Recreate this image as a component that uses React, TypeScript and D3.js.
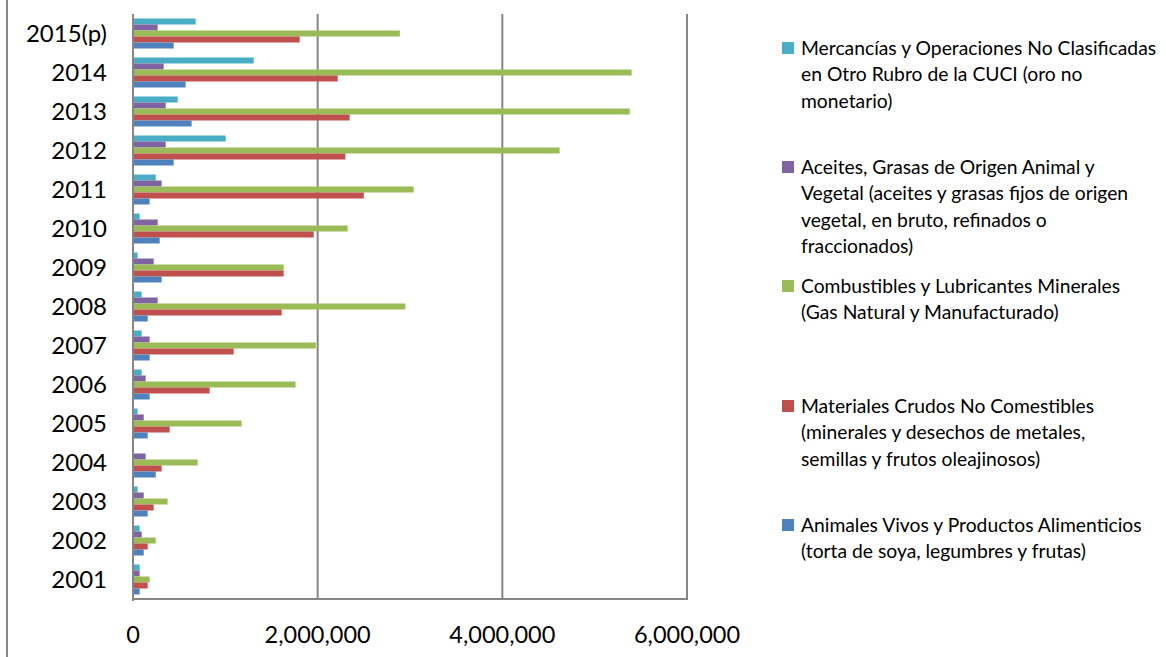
import React from "react";
import * as d3 from "d3";

const years = ["2001", "2002", "2003", "2004", "2005", "2006", "2007", "2008", "2009", "2010", "2011", "2012", "2013", "2014", "2015(p)"];

const mercancias = [72000, 72000, 50000, 0, 50000, 94000, 94000, 94000, 50000, 72000, 246000, 1004000, 484000, 1307000, 679000];
const aceites = [72000, 94000, 116000, 137000, 116000, 137000, 180000, 267000, 224000, 267000, 310000, 354000, 354000, 332000, 267000];
const combustibles = [180000, 246000, 375000, 700000, 1177000, 1760000, 1980000, 2950000, 1632000, 2325000, 3040000, 4620000, 5380000, 5400000, 2890000];
const materiales = [159000, 159000, 224000, 310000, 397000, 830000, 1090000, 1610000, 1632000, 1957000, 2500000, 2300000, 2346000, 2217000, 1805000];
const animales = [72000, 116000, 159000, 246000, 159000, 180000, 180000, 159000, 310000, 289000, 180000, 440000, 635000, 570000, 440000];

const xTicks = [0, 2000000, 4000000, 6000000];

const seriesNames = ["merc", "aceites", "comb", "mat", "anim"];
const seriesValues = [mercancias, aceites, combustibles, materiales, animales];
const seriesColors = ["#4BACC6", "#8064A2", "#9BBB59", "#C0504D", "#4F81BD"];

const legendLines = [
  ["Mercancías y Operaciones No Clasificadas", "en Otro Rubro de la CUCI (oro no", "monetario)"],
  ["Aceites, Grasas de Origen Animal y", "Vegetal (aceites y grasas fijos de origen", "vegetal, en bruto, refinados o", "fraccionados)"],
  ["Combustibles y Lubricantes Minerales", "(Gas Natural y Manufacturado)"],
  ["Materiales Crudos No Comestibles", "(minerales y desechos de metales,", "semillas y frutos oleajinosos)"],
  ["Animales Vivos y Productos Alimenticios", "(torta de soya, legumbres y frutas)"],
];
const legendTops = [48, 167, 286, 406, 525];

export default function App() {
  const W = 1166, H = 657;
  const left = 133, right = 687, top = 14, bottom = 599;
  const x = d3.scaleLinear().domain([0, 6000000]).range([left, right]);
  const yearsTopDown = years.slice().reverse();
  const y = d3.scaleBand<string>().domain(yearsTopDown).range([top, bottom]).paddingInner(9 / 39).paddingOuter(4.5 / 39);
  const ys = d3.scaleBand<string>().domain(seriesNames).range([0, y.bandwidth()]);
  const font = "Lato, 'Open Sans', sans-serif";
  const grid = "#868686";
  const lineH = 26.3;

  return (
    <svg width={W} height={H} style={{ position: "absolute", left: 0, top: 0, background: "#fff" }} fontFamily={font}>
      <rect x={0} y={0} width={W} height={H} fill="#fff" />
      <line x1={7} x2={7} y1={0} y2={H} stroke={grid} strokeWidth={2} />
      {xTicks.slice(1).map((t) => (
        <line key={t} x1={x(t)} x2={x(t)} y1={top} y2={bottom} stroke={grid} strokeWidth={2} />
      ))}
      {years.map((yr, i) => (
        <g key={yr} transform={`translate(0,${y(yr)})`}>
          {seriesNames.map((s, k) => {
            const v = seriesValues[k][i];
            return (
              <rect key={s} x={x(0)} y={ys(s)} width={Math.max(0, x(v) - x(0))} height={ys.bandwidth()} fill={seriesColors[k]} />
            );
          })}
        </g>
      ))}
      <line x1={left} x2={left} y1={top} y2={bottom + 2} stroke={grid} strokeWidth={2} />
      <line x1={left - 1} x2={right + 1} y1={bottom} y2={bottom} stroke={grid} strokeWidth={2} />
      {years.map((yr) => (
        <text key={yr} x={107} y={(y(yr) as number) + y.bandwidth() / 2} dy="0.36em" textAnchor="end" fontSize={24} fill="#000">
          {yr}
        </text>
      ))}
      {xTicks.map((t) => (
        <text key={t} x={x(t)} y={643} textAnchor="middle" fontSize={23.5} fill="#000">
          {d3.format(",")(t)}
        </text>
      ))}
      {legendLines.map((lines, k) => (
        <g key={k}>
          <rect x={782} y={legendTops[k] - 6} width={12} height={12} fill={seriesColors[k]} />
          {lines.map((ln, j) => (
            <text key={j} x={801} y={legendTops[k] + j * lineH} dy="0.36em" fontSize={19.3} fill="#000">
              {ln}
            </text>
          ))}
        </g>
      ))}
    </svg>
  );
}
